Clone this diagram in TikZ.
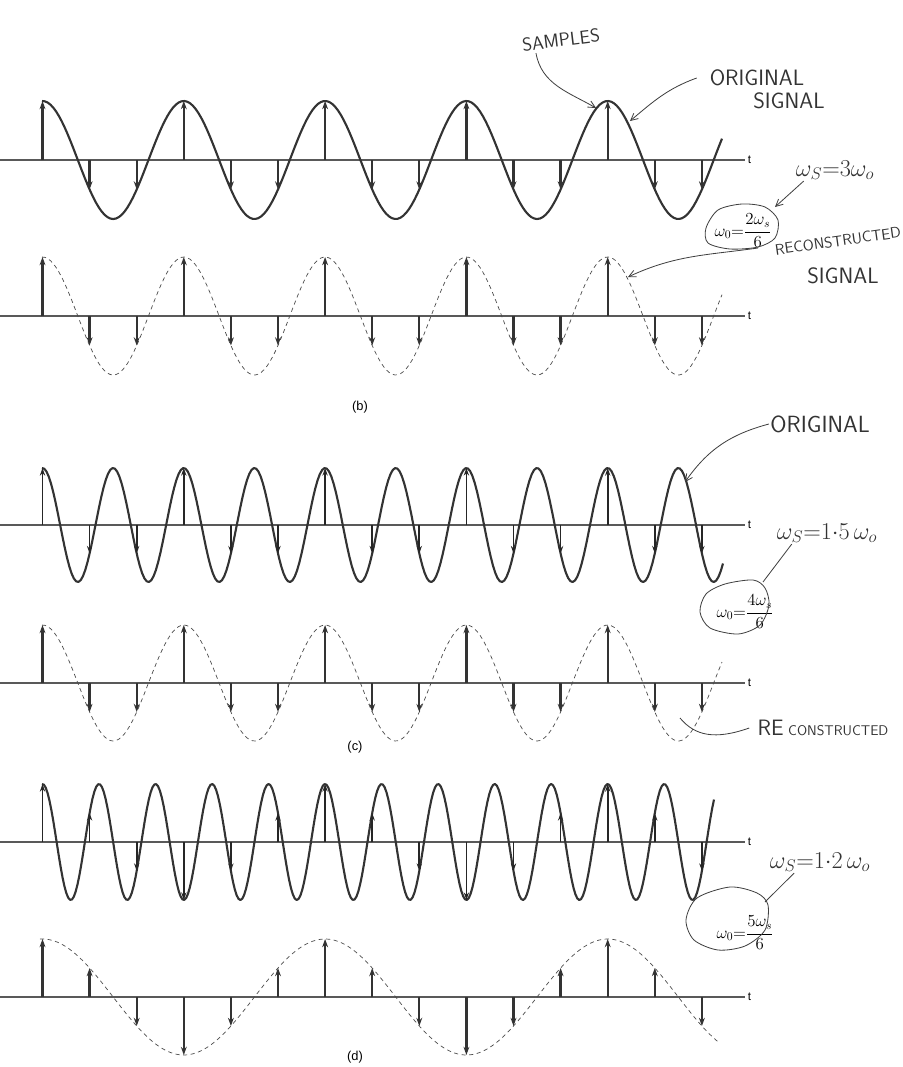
\documentclass[tikz,border=0pt]{standalone}
\usepackage{fontspec}
\setmainfont{Liberation Sans}
\usetikzlibrary{positioning,arrows.meta,calc}

\begin{document}
\begin{tikzpicture}[
  x=0.03cm, y=-0.03cm, >=Stealth,
  axis/.style={draw=black!65, line width=0.9pt},
  sig/.style={draw=black!80, line width=1.8pt, line join=round},
  rec/.style={draw=black!70, line width=0.6pt, dash pattern=on 3.5pt off 3pt},
  smp/.style={draw=black!80, line width=1.9pt, -{Stealth[length=7pt,width=5pt]}},
  smpthin/.style={draw=black!85, line width=1.4pt, -{Stealth[length=6.5pt,width=4.5pt]}},
  tlab/.style={font=\fontsize{10}{12}\selectfont, inner sep=2pt},
  caplab/.style={font=\fontsize{11}{13}\selectfont},
  hand/.style={font=\sffamily\fontsize{19}{21}\selectfont, text=black!80, inner sep=1pt},
  pen/.style={draw=black!75, line width=0.7pt},
  penarr/.style={pen, -{Straight Barb[length=6pt,width=6pt]}},
  frm/.style={font=\fontsize{14.4}{16}\selectfont, inner sep=1pt},
]
\useasboundingbox (0,0) rectangle (903,1067);

% (b) omega_s = 3 omega_0
\draw[axis] (0,160) -- (745,160) node[tlab, right] (tb1) {t};
\draw[sig] plot[domain=42:722, samples=240] (\x, {160-59*cos(360/141.3*(\x-42.5))});
\foreach \k in {0,...,14}
  \draw[smp] ({42.5+\k*47.1},160) -- ({42.5+\k*47.1},{160-59*cos(360*\k/3)});

\draw[axis] (0,316) -- (745,316) node[tlab, right] (tb2) {t};
\draw[rec] plot[domain=42:722, samples=240] (\x, {316-59*cos(360/141.3*(\x-42.5))});
\foreach \k in {0,...,14}
  \draw[smp] ({42.5+\k*47.1},316) -- ({42.5+\k*47.1},{316-59*cos(360*\k/3)});
\node[caplab] (capb) at (360,407) {(b)};

% (c) omega_s = 1.5 omega_0
\draw[axis] (0,525) -- (745,525) node[tlab, right] (tc1) {t};
\draw[sig] plot[domain=42:723, samples=300] (\x, {525-57*cos(360/70.65*(\x-42.5))});
\foreach \k in {0,...,14}
  \draw[smpthin] ({42.5+\k*47.1},525) -- ({42.5+\k*47.1},{525-57*cos(360*\k/1.5)});

\draw[axis] (0,683) -- (745,683) node[tlab, right] (tc2) {t};
\draw[rec] plot[domain=42:722, samples=240] (\x, {683-58*cos(360/141.3*(\x-42.5))});
\foreach \k in {0,...,14}
  \draw[smp] ({42.5+\k*47.1},683) -- ({42.5+\k*47.1},{683-58*cos(360*\k/3)});
\node[caplab] (capc) at (355,747) {(c)};

% (d) omega_s = 1.2 omega_0
\draw[axis] (0,842) -- (745,842) node[tlab, right] (td1) {t};
\draw[sig] plot[domain=42:714, samples=360] (\x, {842-58*cos(360/56.52*(\x-42.5))});
\foreach \k in {0,...,14}
  \draw[smpthin] ({42.5+\k*47.1},842) -- ({42.5+\k*47.1},{842-58*cos(360*\k/1.2)});

\draw[axis] (0,997) -- (745,997) node[tlab, right] (td2) {t};
\draw[rec] plot[domain=40:718, samples=240] (\x, {997-58*cos(360/282.6*(\x-42.5))});
\foreach \k in {0,...,14}
  \draw[smp] ({42.5+\k*47.1},997) -- ({42.5+\k*47.1},{997-58*cos(360*\k/6)});
\node[caplab] (capd) at (355,1057) {(d)};

% pen notes, panel (b)
\node[hand, rotate=7, font=\sffamily\fontsize{16}{18}\selectfont] (samp) at (561,40) {SAMPLES};
\coordinate (samptip) at (596,108);
\draw[penarr] ([xshift=12pt]samp.south west) to[out=-80, in=150] (samptip);

\node[hand] (orig) at (757,78) {ORIGINAL};
\node[hand] (sigb) at (789,101) {SIGNAL};
\coordinate (origtip) at (630,121);
\draw[penarr] ([xshift=-10pt]orig.west) to[out=200, in=40] (origtip);

\node[hand, font=\sffamily\fontsize{20}{22}\selectfont] (wsb) at (835,170) {$\omega_S{=}3\omega_o$};
\node[frm] (fb) at (743,231) {$\displaystyle\omega_0{=}\frac{2\omega_s}{6}$};
\draw[pen] plot[smooth cycle] coordinates {(706,228) (718,210) (742,204) (765,207) (778,220) (775,238) (758,247) (730,249) (708,243)};
\coordinate (blobb) at (775,207);
\draw[penarr] ([xshift=8pt]wsb.south west) -- (blobb);

\node[hand, rotate=8, font=\sffamily\fontsize{13}{15}\selectfont] (recb) at (838,241) {RECONSTRUCTED};
\node[hand] (sigb2) at (843,276) {SIGNAL};
\coordinate (blobbtail) at (758,248);
\coordinate (rectip) at (628,277);
\draw[penarr] (blobbtail) to[out=188, in=25] (rectip);

% pen notes, panel (c)
\node[hand, font=\sffamily\fontsize{20}{22}\selectfont] (origc) at (820,424) {ORIGINAL};
\coordinate (origctip) at (685,482);
\draw[penarr] (origc.west) to[out=195, in=55] (origctip);

\node[hand, font=\sffamily\fontsize{20}{22}\selectfont] (wsc) at (827,533) {$\omega_S{=}1{\cdot}5\,\omega_o$};
\node[frm] (fc) at (745,612) {$\displaystyle\omega_0{=}\frac{4\omega_s}{6}$};
\draw[pen] plot[smooth cycle] coordinates {(753,580) (725,584) (706,594) (700,612) (710,628) (738,634) (760,625) (769,605) (765,588)};
\coordinate (blobc) at (763,582);
\draw[pen] ([xshift=14pt]wsc.south west) -- (blobc);

\node[hand, font=\sffamily\fontsize{12}{14}\selectfont] (recc) at (823,728) {{\fontsize{19}{21}\selectfont RE} CONSTRUCTED};
\coordinate (recctail) at (680,718);
\draw[pen] ([xshift=-6pt]recc.west) .. controls (715,740) and (695,736) .. (recctail);

% pen notes, panel (d)
\node[hand, font=\sffamily\fontsize{20}{22}\selectfont] (wsd) at (820,862) {$\omega_S{=}1{\cdot}2\,\omega_o$};
\node[frm] (fd) at (745,933) {$\displaystyle\omega_0{=}\frac{5\omega_s}{6}$};
\draw[pen] plot[smooth cycle] coordinates {(697,898) (730,887) (757,893) (768,905) (765,930) (745,946) (718,950) (694,940) (686,920)};
\coordinate (blobd) at (765,902);
\draw[pen] ([xshift=22pt]wsd.south west) -- (blobd);

\end{tikzpicture}
\end{document}
